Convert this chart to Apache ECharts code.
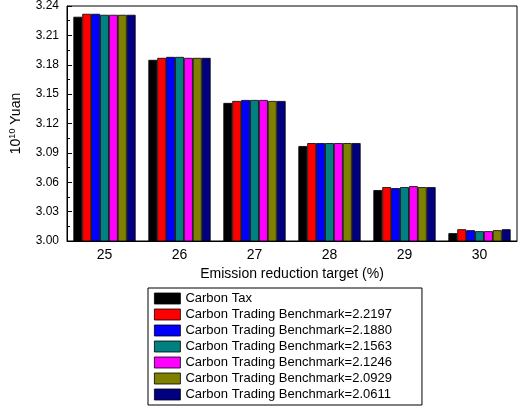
<!DOCTYPE html><html><head><meta charset="utf-8"><script src="https://cdn.jsdelivr.net/npm/echarts@6/dist/echarts.min.js"></script></head><body style="margin:0"><div id="c" style="width:520px;height:408px"></div><script>
const categories=['25','26','27','28','29','30'];
const seriesNames=['Carbon Tax','Carbon Trading Benchmark=2.2197','Carbon Trading Benchmark=2.1880','Carbon Trading Benchmark=2.1563','Carbon Trading Benchmark=2.1246','Carbon Trading Benchmark=2.0929','Carbon Trading Benchmark=2.0611'];
const colors=['#000000','#ff0000','#0000ff','#008080','#ff00ff','#808000','#000080'];
const carbonTax=[3.229,3.185,3.141,3.097,3.052,3.008];
const b22197=[3.232,3.187,3.143,3.100,3.055,3.012];
const b21880=[3.232,3.188,3.144,3.100,3.054,3.011];
const b21563=[3.231,3.188,3.144,3.100,3.055,3.010];
const b21246=[3.231,3.187,3.144,3.100,3.056,3.010];
const b20929=[3.231,3.187,3.143,3.100,3.055,3.011];
const b20611=[3.231,3.187,3.143,3.100,3.055,3.012];
const data=[carbonTax,b22197,b21880,b21563,b21246,b20929,b20611];
const ticks=[3.00,3.03,3.06,3.09,3.12,3.15,3.18,3.21,3.24];
const c=echarts.init(document.getElementById('c'));
c.setOption({
 animation:false,
 grid:{left:60,right:3,top:4,bottom:167,show:true,borderColor:'#000',borderWidth:1},
 legend:{orient:'vertical',left:148,top:288,itemWidth:26,itemHeight:11,itemGap:3,padding:[4,30,4,6],borderColor:'#000',borderWidth:1,icon:'rect',
  itemStyle:{borderColor:'#000',borderWidth:0.8},
  textStyle:{fontFamily:'Liberation Sans',fontSize:13,color:'#000'},data:seriesNames},
 xAxis:{type:'category',data:categories,name:'Emission reduction target (%)',nameLocation:'middle',nameGap:26,
  nameTextStyle:{fontFamily:'Liberation Sans',fontSize:14,color:'#000'},
  axisLine:{lineStyle:{color:'#000'}},axisTick:{inside:false,length:5,lineStyle:{color:'#000'}},
  axisLabel:{fontFamily:'Liberation Sans',fontSize:14,color:'#000',margin:7}},
 yAxis:{type:'value',min:3.00,max:3.24,interval:0.03,name:'{a|10}{s|10}{a| Yuan}',nameLocation:'middle',nameGap:42,
  nameTextStyle:{rich:{a:{fontFamily:'Liberation Sans',fontSize:14,color:'#000'},s:{fontFamily:'Liberation Sans',fontSize:9,color:'#000',verticalAlign:'bottom',padding:[0,0,8,0]}}},
  splitLine:{show:false},axisLine:{show:true,lineStyle:{color:'#000'}},axisTick:{show:true,inside:true,lineStyle:{color:'#000'}},
  minorTick:{show:true,splitNumber:2,length:3,lineStyle:{color:'#000'}},
  axisLabel:{fontFamily:'Liberation Sans',fontSize:12,color:'#000',formatter:v=>v.toFixed(2)}},
 series:seriesNames.map((n,i)=>({name:n,type:'bar',data:data[i],barGap:'0%',barCategoryGap:'17%',
  itemStyle:{color:colors[i],borderColor:'#000',borderWidth:0.8}}))
});
</script></body></html>
